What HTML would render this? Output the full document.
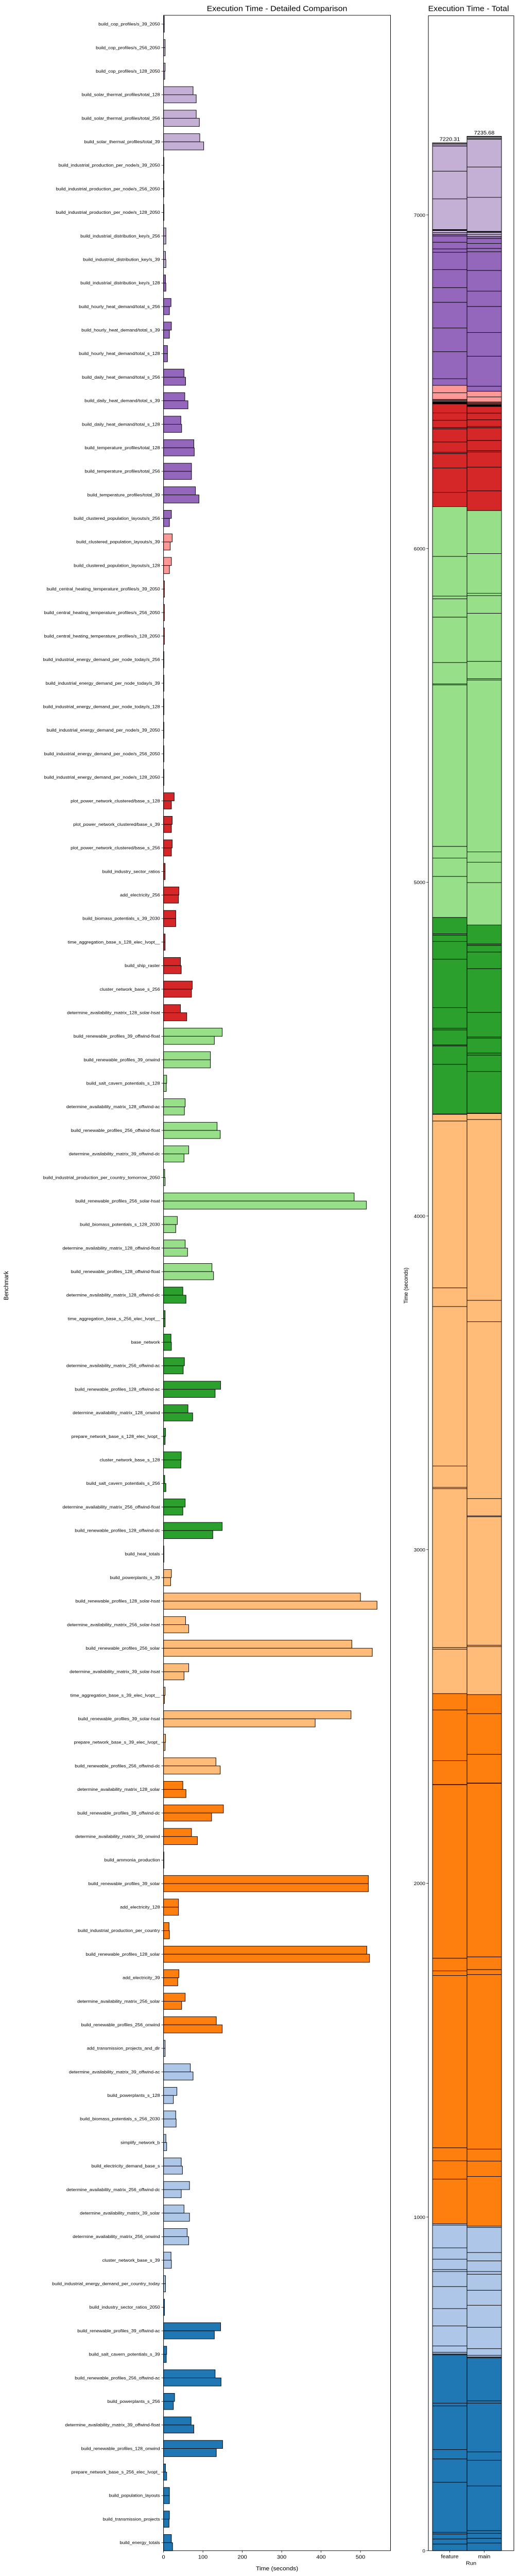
<!DOCTYPE html>
<html><head><meta charset="utf-8"><title>Execution Time</title>
<style>
html,body{margin:0;padding:0;background:#fff;width:100%;height:100%;overflow:hidden;}
svg{display:block;position:fixed;left:0;top:0;width:100vw;height:100vh;font-family:"Liberation Sans","DejaVu Sans",sans-serif;}
</style></head>
<body>
<svg id="chart" viewBox="0 0 1008 5390" preserveAspectRatio="none" xmlns="http://www.w3.org/2000/svg">
<rect x="0" y="0" width="1008" height="5390" fill="#fff"/>
<g id="left"></g>
<g id="right"></g>
</svg>
<script>
const benchmarks = ["build_cop_profiles/s_39_2050","build_cop_profiles/s_256_2050","build_cop_profiles/s_128_2050","build_solar_thermal_profiles/total_128","build_solar_thermal_profiles/total_256","build_solar_thermal_profiles/total_39","build_industrial_production_per_node/s_39_2050","build_industrial_production_per_node/s_256_2050","build_industrial_production_per_node/s_128_2050","build_industrial_distribution_key/s_256",
"build_industrial_distribution_key/s_39","build_industrial_distribution_key/s_128","build_hourly_heat_demand/total_s_256","build_hourly_heat_demand/total_s_39","build_hourly_heat_demand/total_s_128","build_daily_heat_demand/total_s_256","build_daily_heat_demand/total_s_39","build_daily_heat_demand/total_s_128","build_temperature_profiles/total_128","build_temperature_profiles/total_256",
"build_temperature_profiles/total_39","build_clustered_population_layouts/s_256","build_clustered_population_layouts/s_39","build_clustered_population_layouts/s_128","build_central_heating_temperature_profiles/s_39_2050","build_central_heating_temperature_profiles/s_256_2050","build_central_heating_temperature_profiles/s_128_2050","build_industrial_energy_demand_per_node_today/s_256","build_industrial_energy_demand_per_node_today/s_39","build_industrial_energy_demand_per_node_today/s_128",
"build_industrial_energy_demand_per_node/s_39_2050","build_industrial_energy_demand_per_node/s_256_2050","build_industrial_energy_demand_per_node/s_128_2050","plot_power_network_clustered/base_s_128","plot_power_network_clustered/base_s_39","plot_power_network_clustered/base_s_256","build_industry_sector_ratios","add_electricity_256","build_biomass_potentials_s_39_2030","time_aggregation_base_s_128_elec_lvopt__",
"build_ship_raster","cluster_network_base_s_256","determine_availability_matrix_128_solar-hsat","build_renewable_profiles_39_offwind-float","build_renewable_profiles_39_onwind","build_salt_cavern_potentials_s_128","determine_availability_matrix_128_offwind-ac","build_renewable_profiles_256_offwind-float","determine_availability_matrix_39_offwind-dc","build_industrial_production_per_country_tomorrow_2050",
"build_renewable_profiles_256_solar-hsat","build_biomass_potentials_s_128_2030","determine_availability_matrix_128_offwind-float","build_renewable_profiles_128_offwind-float","determine_availability_matrix_128_offwind-dc","time_aggregation_base_s_256_elec_lvopt__","base_network","determine_availability_matrix_256_offwind-ac","build_renewable_profiles_128_offwind-ac","determine_availability_matrix_128_onwind",
"prepare_network_base_s_128_elec_lvopt_","cluster_network_base_s_128","build_salt_cavern_potentials_s_256","determine_availability_matrix_256_offwind-float","build_renewable_profiles_128_offwind-dc","build_heat_totals","build_powerplants_s_39","build_renewable_profiles_128_solar-hsat","determine_availability_matrix_256_solar-hsat","build_renewable_profiles_256_solar",
"determine_availability_matrix_39_solar-hsat","time_aggregation_base_s_39_elec_lvopt__","build_renewable_profiles_39_solar-hsat","prepare_network_base_s_39_elec_lvopt_","build_renewable_profiles_256_offwind-dc","determine_availability_matrix_128_solar","build_renewable_profiles_39_offwind-dc","determine_availability_matrix_39_onwind","build_ammonia_production","build_renewable_profiles_39_solar",
"add_electricity_128","build_industrial_production_per_country","build_renewable_profiles_128_solar","add_electricity_39","determine_availability_matrix_256_solar","build_renewable_profiles_256_onwind","add_transmission_projects_and_dlr","determine_availability_matrix_39_offwind-ac","build_powerplants_s_128","build_biomass_potentials_s_256_2030",
"simplify_network_b","build_electricity_demand_base_s","determine_availability_matrix_256_offwind-dc","determine_availability_matrix_39_solar","determine_availability_matrix_256_onwind","cluster_network_base_s_39","build_industrial_energy_demand_per_country_today","build_industry_sector_ratios_2050","build_renewable_profiles_39_offwind-ac","build_salt_cavern_potentials_s_39",
"build_renewable_profiles_256_offwind-ac","build_powerplants_s_256","determine_availability_matrix_39_offwind-float","build_renewable_profiles_128_onwind","prepare_network_base_s_256_elec_lvopt_","build_population_layouts","build_transmission_projects","build_energy_totals"];

const featureTimes = [2,4,4,75,83,92,1,1,1,6,
5,5,19,20,10,52,54,44,77,71,
81,20,22,20,2.5,2.5,2.5,1,1,1,
1,1,1,27,22,22,4,39,31,4,
43,73,43,149,119,8,55,136,64,3,
484,35,55,123,49,4,19,53,145,62,
5,45,3,55,149,1,20,500,56,478,
64,4,476,5,133,49,152,71,1,520,
38,14,516,39,55,134,4,68,34,31,
6,45,66,52,60,19,5,2.5,145,8,
131,28,70,150,5,15,15,20];

const mainTimes = [2,4,3,83,91,102,1,1,1,6,
6,6,15,15,10,56,62,46,78,71,
90,15,17,15,2.5,2.5,2.5,1,1,1,
1,1,1,20,20,20,4,38,31,4,
45,71,59,129,119,7,53,144,52,4,
515,31,61,127,57,4,20,50,131,74,
4,44,6,49,125,1,18,542,64,530,
52,2.5,385,4,144,57,122,86,1,520,
38,15,523,36,46,149,4,75,25,32,
8,48,45,66,64,20,5,2.5,129,7,
146,25,77,134,8,15,14,23];

// colour group per benchmark (index into palette)
const colorGroups = [9,9,9,9,9,9,9,9,9,9,
9,8,8,8,8,8,8,8,8,8,
8,8,7,7,7,7,7,7,7,7,
7,7,7,6,6,6,6,6,6,6,
6,6,6,5,5,5,5,5,5,5,
5,5,5,5,4,4,4,4,4,4,
4,4,4,4,4,4,3,3,3,3,
3,3,3,3,3,2,2,2,2,2,
2,2,2,2,2,2,1,1,1,1,
1,1,1,1,1,1,1,0,0,0,
0,0,0,0,0,0,0,0];

const runs = ["feature","main"];
const runTotals = [7220.31, 7235.68];
const xTicks = [0,100,200,300,400,500];
const yTicksTotal = [0,1000,2000,3000,4000,5000,6000,7000];
const palette = ["#1f77b4","#aec7e8","#ff7f0e","#ffbb78","#2ca02c","#98df8a","#d62728","#ff9896","#9467bd","#c5b0d5"];

const NS = "http://www.w3.org/2000/svg";
function mk(tag, attrs, parent, text){
  const e = document.createElementNS(NS, tag);
  for (const k in attrs) e.setAttribute(k, attrs[k]);
  if (text !== undefined) e.textContent = text;
  parent.appendChild(e);
  return e;
}

// ---------- left chart ----------
const L = {x0:317.6, x1:758.5, y0:32, y1:5337};
const xScale = v => L.x0 + v * 0.765;
const yPos = i => 50.5 + i * 49.25;
const barH = 17;
const left = document.getElementById('left');

benchmarks.forEach((name, i) => {
  const c = palette[colorGroups[i]];
  const cy = yPos(i);
  const r1 = mk('rect', {x:L.x0, y:cy-barH, width:Math.max(0.5, xScale(featureTimes[i])-L.x0), height:barH, fill:c, stroke:'#000', 'stroke-width':1}, left);
  
  
  const r2 = mk('rect', {x:L.x0, y:cy, width:Math.max(0.5, xScale(mainTimes[i])-L.x0), height:barH, fill:c, stroke:'#000', 'stroke-width':1}, left);
  
  
  mk('line', {x1:L.x0-4, x2:L.x0, y1:cy, y2:cy, stroke:'#000', 'stroke-width':0.8}, left);
  const t = mk('text', {x:L.x0-7, y:cy+3, 'font-size':9, 'text-anchor':'end', fill:'#000'}, left, name);
  
  
});
const frameL = mk('rect', {x:L.x0, y:L.y0, width:L.x1-L.x0, height:L.y1-L.y0, fill:'none', stroke:'#000', 'stroke-width':1}, left);


xTicks.forEach(v => {
  const x = xScale(v);
  mk('line', {x1:x, x2:x, y1:L.y1, y2:L.y1+4, stroke:'#000', 'stroke-width':0.8}, left);
  const t = mk('text', {x:x, y:L.y1+17, 'font-size':11, 'text-anchor':'middle'}, left, String(v));
  
  
});
let tt = mk('text', {x:(L.x0+L.x1)/2, y:5378, 'font-size':12, 'text-anchor':'middle'}, left, 'Time (seconds)');


tt = mk('text', {x:(L.x0+L.x1)/2, y:23, 'font-size':16, 'text-anchor':'middle'}, left, 'Execution Time - Detailed Comparison');


tt = mk('text', {x:0, y:0, 'font-size':12, 'text-anchor':'middle', transform:'translate(16,2690) rotate(-90)'}, left, 'Benchmark');



// ---------- right chart ----------
const R = {x0:832, x1:998, y0:33, y1:5337};
const vScale = v => R.y1 - v * 0.6982;
const barX = k => 840 + k * 67;
const barW = 67;
const right = document.getElementById('right');
const seriesList = [featureTimes, mainTimes];
seriesList.forEach((vals, k) => {
  let cum = 0;
  for (let i = vals.length - 1; i >= 0; i--) {
    const yTop = vScale(cum + vals[i]);
    const yBot = vScale(cum);
    const r = mk('rect', {x:barX(k), y:yTop, width:barW, height:Math.max(0.3, yBot-yTop), fill:palette[colorGroups[i]], stroke:'#000', 'stroke-width':1}, right);
    
    
    cum += vals[i];
  }
  const lab = mk('text', {x:barX(k)+barW/2, y:vScale(cum)-4, 'font-size':11, 'text-anchor':'middle'}, right, runTotals[k].toFixed(2));
  
  
  mk('line', {x1:barX(k)+barW/2, x2:barX(k)+barW/2, y1:R.y1, y2:R.y1+4, stroke:'#000', 'stroke-width':0.8}, right);
  const xl = mk('text', {x:barX(k)+barW/2, y:R.y1+16, 'font-size':11, 'text-anchor':'middle'}, right, runs[k]);
  
  
});
const frameR = mk('rect', {x:R.x0, y:R.y0, width:R.x1-R.x0, height:R.y1-R.y0, fill:'none', stroke:'#000', 'stroke-width':1}, right);


yTicksTotal.forEach(v => {
  const y = vScale(v);
  mk('line', {x1:R.x0-4, x2:R.x0, y1:y, y2:y, stroke:'#000', 'stroke-width':0.8}, right);
  const t = mk('text', {x:R.x0-6, y:y+4, 'font-size':10, 'text-anchor':'end'}, right, String(v));
  
  
});
tt = mk('text', {x:(R.x0+R.x1)/2, y:5367, 'font-size':11, 'text-anchor':'middle'}, right, 'Run');


tt = mk('text', {x:(R.x0+R.x1)/2 - 5, y:23, 'font-size':16, 'text-anchor':'middle'}, right, 'Execution Time - Total');


tt = mk('text', {x:0, y:0, 'font-size':11, 'text-anchor':'middle', transform:'translate(792,2690) rotate(-90)'}, right, 'Time (seconds)');


</script>
</body></html>
